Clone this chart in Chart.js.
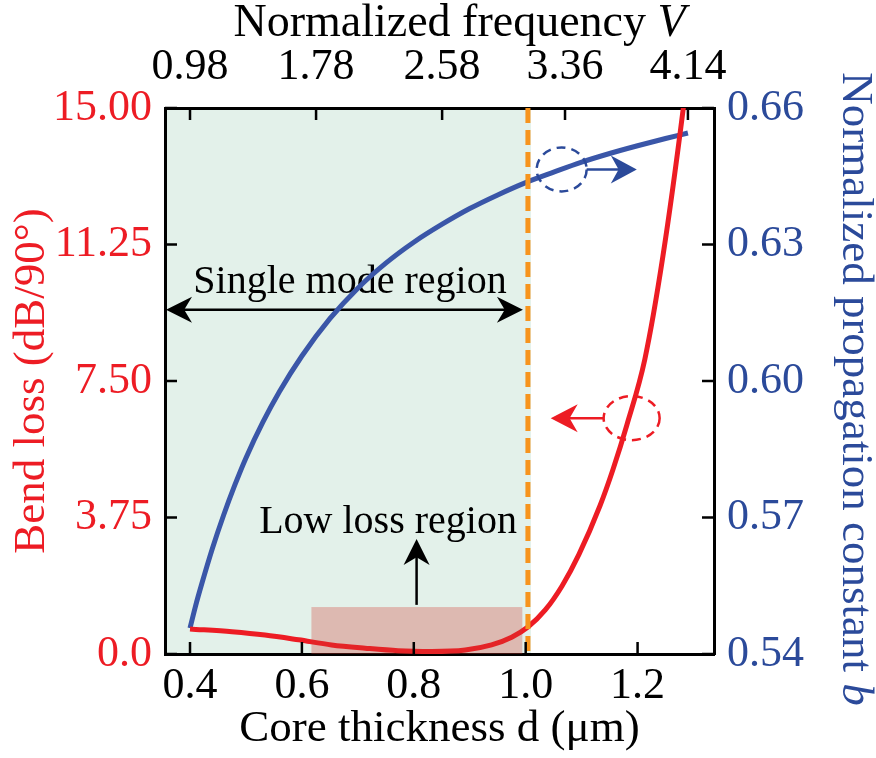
<!DOCTYPE html>
<html>
<head>
<meta charset="utf-8">
<script src="https://cdn.jsdelivr.net/npm/chart.js@4.4.1/dist/chart.umd.min.js"></script>
<style>
  body { margin: 0; background: #fff; }
  canvas { display: block; }
</style>
</head>
<body>
<canvas id="chart" width="876" height="758"></canvas>
<script>
// blue curve: normalized propagation constant b vs core thickness d (um)
const dBlue = [0.40, 0.41, 0.42, 0.44, 0.46, 0.48, 0.50, 0.53, 0.56, 0.60, 0.65, 0.70, 0.75, 0.80, 0.85, 0.90, 0.95, 1.00, 1.05, 1.10, 1.15, 1.20, 1.25, 1.29]
const bValues = [0.5457, 0.5506, 0.5550, 0.5632, 0.5705, 0.5771, 0.5831, 0.5909, 0.5977, 0.6055, 0.6137, 0.6204, 0.6259, 0.6305, 0.6344, 0.6379, 0.6409, 0.6436, 0.6459, 0.6481, 0.6500, 0.6517, 0.6533, 0.6545]

// red curve: bend loss (dB/90deg) vs core thickness d (um)
const dRed = [0.400, 0.475, 0.534, 0.594, 0.653, 0.713, 0.772, 0.832, 0.892, 0.939, 0.975, 1.004, 1.035, 1.065, 1.095, 1.133, 1.156, 1.181, 1.213, 1.245, 1.283, 1.294]
const bendLoss = [0.69, 0.61, 0.52, 0.39, 0.25, 0.16, 0.09, 0.07, 0.11, 0.25, 0.46, 0.74, 1.21, 1.87, 2.73, 4.08, 5.07, 6.30, 8.10, 10.90, 15.15, 16.6]

const bottomTicks = [0.4, 0.6, 0.8, 1.0, 1.2]
const topTicks = [0.98, 1.78, 2.58, 3.36, 4.14]
const leftTicks = [0, 3.75, 7.5, 11.25, 15]
const leftTickLabels = ['0.0', '3.75', '7.50', '11.25', '15.00']
const rightTicks = [0.54, 0.57, 0.60, 0.63, 0.66]

const cutoffThickness = 1.004      // single mode limit (orange line)
const lowLossFrom = 0.617
const lowLossTo = 0.994
const lowLossTop = 1.29

// axis ranges
const xMin = 0.3553, xMax = 1.3366
const vAt04 = 0.98, vPerUm = 3.5506   // V = 0.98 at d = 0.4
const vMin = vAt04 + vPerUm * (xMin - 0.4)
const vMax = vAt04 + vPerUm * (xMax - 0.4)

const SERIF = '"Liberation Serif", serif'
const RED = '#ed1c24'
const BLUE = '#3a56a8'
const BLUE_TXT = '#2b4a9a'
const ORANGE = '#f7941d'

Chart.defaults.font.family = SERIF

function arrowHead(ctx, x, y, dx, dy, len, half) {
  const px = -dy, py = dx
  ctx.beginPath()
  ctx.moveTo(x, y)
  ctx.lineTo(x - dx * len + px * half, y - dy * len + py * half)
  ctx.lineTo(x - dx * len * 0.7, y - dy * len * 0.7)
  ctx.lineTo(x - dx * len - px * half, y - dy * len - py * half)
  ctx.closePath()
  ctx.fill()
}

function dashedEllipse(ctx, cx, cy, rx, ry, color) {
  ctx.save()
  ctx.strokeStyle = color
  ctx.lineWidth = 2.5
  ctx.setLineDash([9, 6])
  ctx.beginPath()
  ctx.ellipse(cx, cy, rx, ry, 0, 0, Math.PI * 2)
  ctx.stroke()
  ctx.restore()
}

const extras = {
  id: 'extras',
  beforeDraw(chart) {
    const {ctx, chartArea: a, scales: {x}} = chart
    const xEnd = x.getPixelForValue(cutoffThickness)
    ctx.save()
    ctx.fillStyle = '#ffffff'
    ctx.fillRect(0, 0, chart.width, chart.height)
    ctx.fillStyle = '#e3f1ea'
    ctx.fillRect(a.left, a.top, xEnd + 3 - a.left, a.bottom - a.top)
    ctx.restore()
  },
  beforeDatasetsDraw(chart) {
    const {ctx, chartArea: a, scales: {x, y}} = chart
    ctx.save()
    ctx.fillStyle = '#000'
    ctx.strokeStyle = '#000'
    ctx.lineWidth = 2.5
    // single mode region double arrow
    const ay = y.getPixelForValue(9.46)
    const x0 = a.left + 1
    const x1 = x.getPixelForValue(cutoffThickness) - 5
    ctx.beginPath()
    ctx.moveTo(x0 + 15, ay)
    ctx.lineTo(x1 - 15, ay)
    ctx.stroke()
    arrowHead(ctx, x0, ay, -1, 0, 26, 13)
    arrowHead(ctx, x1, ay, 1, 0, 26, 13)
    ctx.font = '40px ' + SERIF
    ctx.textAlign = 'center'
    ctx.textBaseline = 'alphabetic'
    ctx.fillText('Single mode region', x.getPixelForValue(0.686), y.getPixelForValue(9.93))
    // low loss arrow
    const lx = x.getPixelForValue(0.805)
    const ly0 = y.getPixelForValue(1.35)
    const ly1 = y.getPixelForValue(3.16)
    ctx.beginPath()
    ctx.moveTo(lx, ly0)
    ctx.lineTo(lx, ly1 + 15)
    ctx.stroke()
    arrowHead(ctx, lx, ly1, 0, -1, 26, 13)
    ctx.fillText('Low loss region', x.getPixelForValue(0.754), y.getPixelForValue(3.33))
    ctx.restore()
  },
  afterDatasetsDraw(chart) {
    const {ctx, chartArea: a, scales: {x, y, y2}} = chart
    ctx.save()
    // low loss box
    ctx.fillStyle = 'rgba(208, 56, 48, 0.3)'
    const bx0 = x.getPixelForValue(lowLossFrom)
    const bx1 = x.getPixelForValue(lowLossTo)
    const by = y.getPixelForValue(lowLossTop)
    ctx.fillRect(bx0, by, bx1 - bx0, a.bottom - by)
    // cutoff line
    const ox = x.getPixelForValue(cutoffThickness)
    ctx.strokeStyle = ORANGE
    ctx.lineWidth = 5
    ctx.setLineDash([15, 7])
    ctx.beginPath()
    ctx.moveTo(ox, a.top)
    ctx.lineTo(ox, a.bottom)
    ctx.stroke()
    ctx.setLineDash([])
    // blue marker -> right axis
    const bcx = x.getPixelForValue(1.0643), bcy = y2.getPixelForValue(0.6465)
    dashedEllipse(ctx, bcx, bcy, 25, 22, BLUE_TXT)
    const btip = x.getPixelForValue(1.1986)
    ctx.strokeStyle = BLUE_TXT
    ctx.fillStyle = BLUE_TXT
    ctx.lineWidth = 2.5
    ctx.beginPath()
    ctx.moveTo(bcx + 25, bcy)
    ctx.lineTo(btip - 15, bcy)
    ctx.stroke()
    arrowHead(ctx, btip, bcy, 1, 0, 26, 14)
    // red marker -> left axis
    const rcx = x.getPixelForValue(1.1894), rcy = y.getPixelForValue(6.48)
    dashedEllipse(ctx, rcx, rcy, 28, 22, RED)
    const rtip = x.getPixelForValue(1.0447)
    ctx.strokeStyle = RED
    ctx.fillStyle = RED
    ctx.beginPath()
    ctx.moveTo(rcx - 28, rcy)
    ctx.lineTo(rtip + 15, rcy)
    ctx.stroke()
    arrowHead(ctx, rtip, rcy, -1, 0, 27, 14)
    ctx.restore()
  },
  afterDraw(chart) {
    const {ctx, chartArea: a, scales} = chart
    const tickLen = 12
    ctx.save()
    ctx.strokeStyle = '#000'
    ctx.lineWidth = 2.5
    ctx.beginPath()
    scales.x.ticks.forEach(t => {
      const p = scales.x.getPixelForValue(t.value)
      ctx.moveTo(p, a.bottom); ctx.lineTo(p, a.bottom - tickLen)
    })
    scales.x2.ticks.forEach(t => {
      const p = scales.x2.getPixelForValue(t.value)
      ctx.moveTo(p, a.top); ctx.lineTo(p, a.top + tickLen)
    })
    scales.y.ticks.forEach(t => {
      const p = scales.y.getPixelForValue(t.value)
      ctx.moveTo(a.left, p); ctx.lineTo(a.left + tickLen, p)
    })
    scales.y2.ticks.forEach(t => {
      const p = scales.y2.getPixelForValue(t.value)
      ctx.moveTo(a.right, p); ctx.lineTo(a.right - tickLen, p)
    })
    ctx.stroke()

    // top title with italic V
    let reg = '46px ' + SERIF, ita = 'italic 46px ' + SERIF
    ctx.textBaseline = 'alphabetic'
    ctx.textAlign = 'left'
    ctx.fillStyle = '#000'
    let t1 = 'Normalized frequency ', t2 = 'V'
    ctx.font = reg; let w1 = ctx.measureText(t1).width
    ctx.font = ita; let w2 = ctx.measureText(t2).width
    let sx = (a.left + a.right) / 2 + 20 - (w1 + w2) / 2
    ctx.font = reg; ctx.fillText(t1, sx, 36)
    ctx.font = ita; ctx.fillText(t2, sx + w1, 36)

    // right title with italic b, reading top to bottom
    reg = '45px ' + SERIF; ita = 'italic 45px ' + SERIF
    t1 = 'Normalized propagation constant '; t2 = 'b'
    ctx.font = reg; w1 = ctx.measureText(t1).width
    ctx.font = ita; w2 = ctx.measureText(t2).width
    ctx.translate(843, (a.top + a.bottom) / 2 + 8)
    ctx.rotate(Math.PI / 2)
    ctx.fillStyle = BLUE_TXT
    sx = -(w1 + w2) / 2
    ctx.font = reg; ctx.fillText(t1, sx, 0)
    ctx.font = ita; ctx.fillText(t2, sx + w1, 0)
    ctx.restore()
  }
}

const border = {display: true, color: '#000', width: 3}
const noGrid = {display: false, drawTicks: false}

function draw() {
  new Chart('chart', {
    type: 'line',
    data: {
      datasets: [
        {
          label: 'Bend loss',
          data: dRed.map((d, i) => ({x: d, y: bendLoss[i]})),
          xAxisID: 'x',
          yAxisID: 'y',
          borderColor: RED,
          borderWidth: 5,
          pointRadius: 0,
          cubicInterpolationMode: 'monotone',
          clip: 0
        },
        {
          label: 'b',
          data: dBlue.map((d, i) => ({x: d, y: bValues[i]})),
          xAxisID: 'x',
          yAxisID: 'y2',
          borderColor: BLUE,
          borderWidth: 5,
          pointRadius: 0,
          cubicInterpolationMode: 'monotone',
          clip: 0
        }
      ]
    },
    options: {
      responsive: false,
      animation: false,
      devicePixelRatio: 1,
      layout: {padding: 0},
      plugins: {legend: {display: false}, tooltip: {enabled: false}},
      scales: {
        x: {
          type: 'linear', position: 'bottom', min: xMin, max: xMax, bounds: 'data',
          afterBuildTicks: s => { s.ticks = bottomTicks.map(v => ({value: v})) },
          afterFit: s => { s.height = 104 },
          grid: noGrid, border: border,
          ticks: {color: '#000', font: {size: 44}, padding: 6, autoSkip: false, maxRotation: 0,
            callback: v => v.toFixed(1)},
          title: {display: true, text: 'Core thickness d (μm)', color: '#000',
            font: {size: 45}, padding: {top: 0, bottom: 2}}
        },
        x2: {
          type: 'linear', position: 'top', min: vMin, max: vMax, bounds: 'data',
          afterBuildTicks: s => { s.ticks = topTicks.map(v => ({value: v})) },
          afterFit: s => { s.height = 108 },
          grid: noGrid, border: border,
          ticks: {color: '#000', font: {size: 44}, padding: 14, autoSkip: false, maxRotation: 0,
            callback: v => v.toFixed(2)}
        },
        y: {
          type: 'linear', position: 'left', min: 0, max: 15, bounds: 'data',
          afterBuildTicks: s => { s.ticks = leftTicks.map(v => ({value: v})) },
          afterFit: s => { s.width = 165 },
          grid: noGrid, border: border,
          ticks: {color: RED, font: {size: 44}, padding: 13,
            callback: v => leftTickLabels[leftTicks.indexOf(v)]},
          title: {display: true, text: 'Bend loss (dB/90°)', color: RED,
            font: {size: 45}, padding: {top: 5, bottom: 0}}
        },
        y2: {
          type: 'linear', position: 'right', min: 0.54, max: 0.66, bounds: 'data',
          afterBuildTicks: s => { s.ticks = rightTicks.map(v => ({value: v})) },
          afterFit: s => { s.width = 162 },
          grid: noGrid, border: border,
          ticks: {color: BLUE_TXT, font: {size: 44}, padding: 13,
            callback: v => v.toFixed(2)}
        }
      }
    },
    plugins: [extras]
  })
}

Promise.all([
  document.fonts.load('44px "Liberation Serif"'),
  document.fonts.load('italic 44px "Liberation Serif"')
]).catch(() => {}).then(draw)
</script>
</body>
</html>
